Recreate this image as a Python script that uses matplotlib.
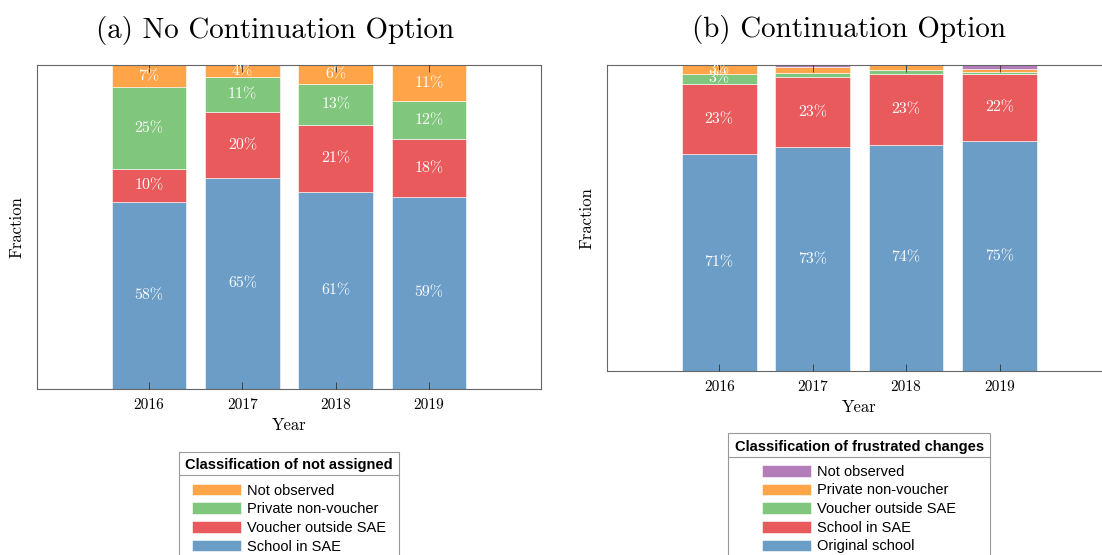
import numpy as np
import matplotlib
matplotlib.use("Agg")
import matplotlib.pyplot as plt
from matplotlib.lines import Line2D

plt.rcParams['axes.formatter.use_mathtext'] = True

years = [2016, 2017, 2018, 2019]

# (a) not assigned
a_school_sae = [0.577, 0.651, 0.607, 0.593]
a_voucher_out = [0.102, 0.204, 0.208, 0.178]
a_private = [0.253, 0.107, 0.126, 0.118]
a_not_obs = [0.068, 0.038, 0.059, 0.111]

# (b) frustrated changes
b_original = [0.709, 0.732, 0.740, 0.752]
b_school_sae = [0.229, 0.228, 0.230, 0.217]
b_voucher_out = [0.033, 0.013, 0.012, 0.008]
b_private = [0.029, 0.022, 0.017, 0.009]
b_not_obs = [0.000, 0.005, 0.001, 0.014]

blue = '#6b9dc7'
red = '#e95a5c'
green = '#80c67c'
orange = '#ffa448'
purple = '#b37dba'

serif = 'cmr10'
sans = 'Liberation Sans'


def stacked(ax, series, labels, colors):
    bottom = np.zeros(len(years))
    handles = []
    for vals, lab, col in zip(series, labels, colors):
        vals = np.array(vals)
        h = ax.bar(years, vals, 0.8, bottom=bottom, color=col, label=lab,
                   edgecolor='white', linewidth=0.4)
        handles.append(h)
        for x, b, v in zip(years, bottom, vals):
            if v >= 0.025:
                ax.text(x, b + v / 2, '%d%%' % round(v * 100), color='white',
                        ha='center', va='center', family=serif, fontsize=11.5)
        bottom += vals
    ax.set_xlim(2014.8, 2020.2)
    ax.set_ylim(0, 1)
    ax.set_xticks(years)
    ax.set_xticklabels([str(y) for y in years], family=serif, fontsize=11)
    ax.set_yticks([])
    ax.tick_params(axis='x', direction='in', top=True, length=5, width=0.6,
                   color='#333333', pad=7)
    ax.set_axisbelow(False)
    for s in ax.spines.values():
        s.set_color('#666666')
        s.set_linewidth(0.8)
    ax.set_xlabel('Year', family=serif, fontsize=12)
    ax.set_ylabel('Fraction', family=serif, fontsize=12, labelpad=9)
    return handles


fig = plt.figure(figsize=(11.02, 5.55), dpi=100)
ax1 = fig.add_axes([0.0336, 0.2991, 0.4574, 0.5838])
ax2 = fig.add_axes([0.5508, 0.3315, 0.458, 0.5514])

h1 = stacked(ax1, [a_school_sae, a_voucher_out, a_private, a_not_obs],
             ['School in SAE', 'Voucher outside SAE', 'Private non-voucher', 'Not observed'],
             [blue, red, green, orange])
h2 = stacked(ax2, [b_original, b_school_sae, b_voucher_out, b_private, b_not_obs],
             ['Original school', 'School in SAE', 'Voucher outside SAE',
              'Private non-voucher', 'Not observed'],
             [blue, red, green, orange, purple])

fig.text(0.2495, 0.945, '(a) No Continuation Option', family=serif, fontsize=20.9,
         ha='center', va='center')
fig.text(0.7704, 0.947, '(b) Continuation Option', family=serif, fontsize=20.9,
         ha='center', va='center')

legends = []
for ax, hs, title, anchor in [(ax1, h1, 'Classification of not assigned', -0.194),
                              (ax2, h2, 'Classification of frustrated changes', -0.203)]:
    leg = ax.legend(hs[::-1], [h.get_label() for h in hs[::-1]], title=title,
                    loc='upper center', bbox_to_anchor=(0.5, anchor),
                    borderaxespad=0,
                    prop={'family': sans, 'size': 10.5},
                    title_fontproperties={'family': sans, 'size': 10.5, 'weight': 'bold'},
                    handlelength=3.36, handleheight=0.87, labelspacing=0.32,
                    borderpad=0.45, handletextpad=0.4, fancybox=False,
                    edgecolor='#999999', framealpha=1)
    leg.get_frame().set_linewidth(0.8)
    # extra room between the title and the entries
    leg._legend_box.sep = 8
    legends.append(leg)

# separator line under each legend title
fig.canvas.draw()
r = fig.canvas.get_renderer()
for leg in legends:
    frame = leg.get_frame().get_window_extent(r)
    tbox = leg._legend_title_box.get_window_extent(r)
    ybot = tbox.y0 - 3
    x0, y0 = fig.transFigure.inverted().transform((frame.x0, ybot))
    x1, _ = fig.transFigure.inverted().transform((frame.x1, ybot))
    fig.add_artist(Line2D([x0, x1], [y0, y0], transform=fig.transFigure,
                          color='#999999', linewidth=0.8))

fig.savefig('out.png', dpi=100)
